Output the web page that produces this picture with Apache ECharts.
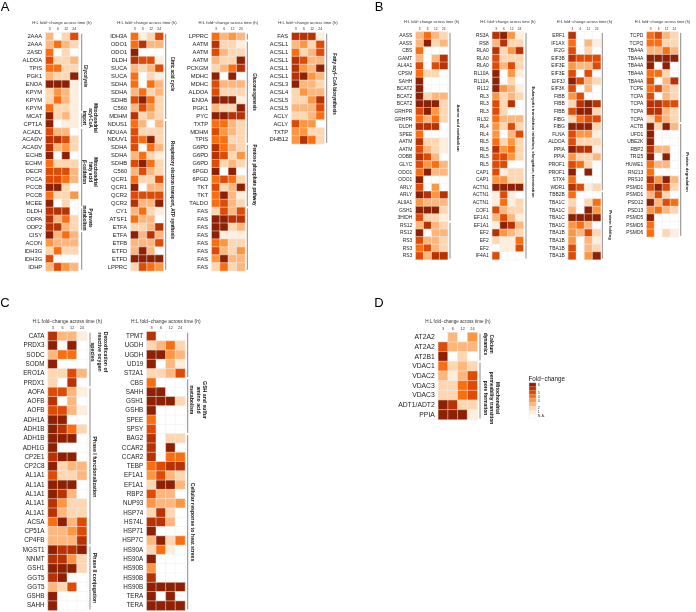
<!DOCTYPE html>
<html style="height: 100%">
<head>
    <meta charset="utf-8">
</head>
<body style="height: 100%; margin: 0; background: #fff">
<div id="container" style="width: 696px; height: 612px"></div>

<script src="https://cdn.jsdelivr.net/npm/echarts@6/dist/echarts.min.js"></script>
<script type="text/javascript">
    var times = ['3', '6', '12', '24'];
    var headerText = 'H:L fold\u2212change across time (h)';

    var levelColors = ['#ffffff', '#feeedd', '#fdd6b2', '#fdb67c', '#fd9640', '#fb6e10', '#df4a04', '#b83204', '#8e2103'];
    var legendLevels = [8, 7, 6, 5, 4, 3, 2, 1, 0];
    var legendLabels = ['6', '', '5', '4', '3', '', '2', '1', 'N.A.'];

    var a1Genes = ['2AAA','2AAA','2ASD','ALDOA','TPIS','PGK1','ENOA','KPYM','KPYM','KPYM','MCAT','CPT1A','ACADL','ACADV','ACADV','ECHB','ECHM','DECR','PCCA','PCCB','PCCB','MCEE','DLDH','ODPA','ODP2','CISY','ACON','IDH3G','IDH3G','IDHP'];
    var a1Values = [[3,0,2,6],[3,5,3,2],[5,0,2,0],[6,2,2,3],[5,5,2,2],[3,2,2,8],[8,8,8,1],[2,4,3,1],[2,5,3,1],[5,2,2,1],[8,2,3,1],[8,0,1,1],[6,3,3,0],[7,7,6,2],[7,3,4,2],[8,0,8,0],[5,2,2,2],[6,6,6,3],[6,6,5,3],[8,8,2,0],[5,2,2,4],[8,0,2,0],[7,7,7,0],[7,3,5,2],[7,7,3,2],[8,3,5,3],[4,3,3,3],[2,5,2,2],[6,0,0,0],[3,6,4,3]];

    var a2Genes = ['IDH3A','ODO1','ODO1','DLDH','SUCA','SUCA','SDHA','SDHA','SDHB','C560','MDHM','NDUS1','NDUAA','NDUV1','SDHA','SDHA','SDHB','C560','QCR1','QCR1','QCR2','QCR2','CY1','ATSF1','ETFA','ETFA','ETFB','ETFD','ETFD','LPPRC'];
    var a2Values = [[5,1,2,6],[5,7,3,3],[8,0,0,0],[7,6,6,1],[3,2,3,6],[5,0,2,1],[5,0,5,3],[3,5,2,3],[6,8,5,2],[3,6,4,2],[7,2,3,2],[5,3,0,3],[6,2,2,2],[6,5,8,2],[6,0,5,3],[3,5,2,1],[6,8,5,2],[3,6,3,2],[5,2,2,6],[8,0,3,3],[6,6,6,6],[7,3,3,8],[3,5,2,1],[5,3,3,0],[2,2,3,7],[8,3,7,3],[3,3,3,6],[3,8,3,0],[8,8,8,8],[2,6,5,4]];

    var a3Genes = ['LPPRC','AATM','AATM','AATM','PCKGM','MDHC','MDHC','ALDOA','ENOA','PGK1','PYC','TXTP','MDHM','TPIS','G6PD','G6PD','G6PD','6PGD','6PGD','TKT','TKT','TALDO','FAS','FAS','FAS','FAS','FAS','FAS','FAS','FAS'];
    var a3Values = [[5,3,4,3],[7,2,2,1],[6,3,2,2],[3,2,2,8],[2,3,5,7],[8,0,8,0],[6,3,3,3],[6,2,2,2],[8,8,8,1],[3,2,2,8],[8,8,7,7],[5,5,3,2],[6,4,3,2],[5,5,2,2],[7,5,3,2],[7,6,2,4],[6,2,3,2],[8,0,8,0],[5,6,5,2],[6,2,3,8],[5,8,3,1],[5,6,3,2],[2,6,3,6],[8,8,7,7],[8,8,2,3],[8,1,1,1],[5,4,2,2],[6,3,2,4],[4,8,3,3],[2,5,2,3]];

    var a4Genes = ['FAS','ACSL1','ACSL1','ACSL1','ACSL1','ACSL1','ACSL3','ACSL4','ACSL5','ACSL5','ACLY','ACLY','TXTP','DHB12'];
    var a4Values = [[7,7,7,1],[3,4,2,6],[5,2,3,6],[7,6,3,3],[7,4,3,8],[7,8,4,3],[8,3,3,2],[2,4,3,3],[2,2,4,7],[3,3,3,6],[2,2,3,5],[6,4,4,0],[4,4,2,2],[4,7,5,2]];

    var b1Genes = ['AASS','AASS','CBS','GAMT','AL4A1','CPSM','SAHH','BCAT2','BCAT2','BCAT2','GRHPR','GRHPR','DLDH','SPEE','AATM','AATM','ODBB','GLYC','ODO1','ODO1','ARLY','ARLY','AL9A1','GSH1','3HIDH','RS12','RS12','RS3','RS3','RS3'];
    var b1Values = [[3,5,3,2],[3,8,2,3],[5,0,0,0],[3,0,3,7],[6,0,6,7],[5,2,2,0],[8,0,0,0],[8,0,0,0],[8,2,3,3],[8,8,8,2],[6,8,4,2],[5,3,5,2],[7,7,7,0],[5,0,0,0],[7,2,2,1],[6,3,2,1],[7,6,3,0],[6,4,5,3],[5,8,3,3],[8,0,0,0],[6,0,4,0],[8,7,4,7],[4,3,3,3],[8,8,8,2],[6,2,2,1],[3,7,3,2],[8,0,3,3],[6,3,3,2],[5,6,3,2],[6,3,7,7]];

    var b2Genes = ['RS3A','RS8','RLA0','RLA0','RLA0','RL10A','RL10A','RL12','RL3','RL3','RL3','RL32','RL4','RL4','RL5','RL5','RL5','RL5','CAP1','CAP1','ACTN1','ACTN1','ACTN1','COF1','EF1A1','EF1A1','EF2','EF2','EF2','IF4A1'];
    var b2Values = [[7,8,4,1],[3,7,2,2],[7,2,4,7],[6,2,2,2],[6,3,6,2],[8,0,4,1],[8,0,2,0],[8,4,3,1],[4,2,3,2],[6,2,7,0],[6,2,0,0],[5,3,3,3],[4,2,6,2],[4,0,3,6],[5,2,4,2],[7,4,5,2],[6,6,4,2],[6,6,0,0],[6,1,2,2],[4,4,2,2],[8,8,8,8],[1,6,1,0],[1,5,1,2],[6,3,2,2],[3,6,3,1],[1,8,7,3],[7,4,3,2],[2,1,1,5],[0,1,1,6],[6,0,0,0]];

    var b3Genes = ['ERF1','IF1AX','IF2G','EIF3B','EIF3E','EIF3E','EIF3J','EIF3K','FIBB','FIBB','FIBB','FIBG','FIBG','FLNA','ALDOA','PPIA','PPIA','PROF1','PROF1','STX4','WDR1','TBB2B','TBA1C','TBA1C','TBA1C','TBA1C','TBA1B','TBA1B','TBA1B','TBA1B'];
    var b3Values = [[7,0,0,0],[5,0,3,1],[6,0,2,0],[7,6,6,6],[4,3,3,6],[6,0,6,0],[8,6,3,2],[6,0,3,0],[4,6,0,0],[2,7,8,7],[6,8,8,2],[2,5,6,6],[8,8,8,2],[6,4,4,1],[6,2,2,2],[8,7,7,1],[4,2,2,3],[6,5,2,0],[8,0,8,0],[5,0,0,0],[7,6,1,2],[5,0,0,0],[2,0,2,5],[3,0,8,4],[8,8,8,8],[4,5,3,0],[4,3,6,2],[4,0,3,1],[6,0,3,2],[6,0,4,8]];

    var b4Genes = ['TCPD','TCPQ','TBA4A','TBA4A','TBA4A','TBA4A','TBA4A','TCPE','TCPA','TCPA','TCPA','TCPA','ACTB','UFD1','UBE2K','RBP2','TRI25','HUWE1','RN213','PRS10','PSMD1','PSMD1','PSD12','PSD13','PSMD5','PSMD5','PSMD6'];
    var b4Values = [[5,6,3,2],[5,5,2,2],[3,3,5,3],[8,8,8,8],[8,0,8,0],[5,5,2,0],[6,0,3,7],[5,6,3,2],[6,0,3,2],[7,7,6,6],[7,7,3,2],[2,5,3,2],[8,2,8,3],[8,0,0,0],[8,0,0,0],[7,3,3,0],[8,0,8,0],[5,3,3,0],[5,0,0,0],[7,4,8,3],[6,8,6,2],[3,6,2,0],[8,3,6,5],[4,5,3,2],[8,0,0,0],[5,0,0,0],[5,0,2,1]];

    var c1Genes = ['CATA','PRDX3','SODC','SODM','ERO1A','PRDX1','AOFA','AOFB','AOFB','ADH1A','ADH1B','ADH1B','ADH1G','CP2E1','CP2C8','AL1A1','AL1A1','AL1A1','AL1A1','AL1A1','ACSA','CP51A','CP4FB','MGST1','NNMT','GSH1','GGT5','GGT5','GSHB','SAHH'];
    var c1Values = [[7,3,3,1],[8,0,8,0],[3,5,5,0],[8,0,0,0],[2,2,6,3],[2,0,7,0],[6,6,3,1],[7,0,3,0],[6,6,3,1],[8,8,0,0],[8,7,5,2],[8,8,8,0],[8,0,0,0],[7,8,8,0],[8,2,3,3],[6,2,2,3],[8,8,8,0],[8,7,3,0],[7,4,2,2],[7,3,2,2],[5,8,3,6],[3,3,4,6],[3,3,3,7],[8,7,7,8],[7,7,4,2],[8,8,8,2],[7,8,0,0],[3,2,6,0],[8,0,0,0],[8,0,0,0]];

    var c2Genes = ['TPMT','UGDH','UGDH','UD19','ST2A1','CBS','SAHH','GSH1','GSHB','SPEE','SPSY','BAG2','CCAR2','CCAR2','TEBP','EF1A1','EF1A1','RBP2','NUP93','HSP74','HS74L','HSP71','HSP7C','HS90A','HS90A','HS90B','HS90B','HS90B','TERA','TERA'];
    var c2Values = [[7,0,0,0],[2,3,5,2],[8,8,4,3],[8,0,3,1],[2,2,3,6],[5,0,0,0],[8,8,0,0],[8,8,8,2],[8,0,0,0],[5,0,0,0],[6,0,0,0],[7,0,2,2],[7,0,8,0],[7,0,5,5],[5,6,7,7],[4,6,3,2],[2,8,8,3],[6,3,3,0],[4,3,3,4],[2,7,2,0],[7,7,3,0],[8,0,0,0],[3,8,2,5],[2,5,1,0],[8,0,0,0],[4,0,0,0],[7,0,0,0],[8,8,8,8],[8,0,8,0],[8,8,8,8]];

    var d1Genes = ['AT2A2','AT2A2','AT2B1','VDAC1','VDAC2','VDAC3','VDAC3','ADT1/ADT2','PPIA'];
    var d1Values = [[0,3,0,4],[6,3,3,3],[8,0,2,0],[5,2,3,2],[3,1,3,6],[2,2,5,6],[2,2,5,6],[8,7,2,2],[8,8,8,1]];

    // one heatmap per block: grid box, font sizes and the brackets beside it
    var blocks = [
        {genes: a1Genes, values: a1Values, left: 45.7, width: 32.6, top: 32.7, rowH: 7.94, font: 5.8, tick: 3.5, head: 4.2,
            lineX: 81.7, groups: [
                {from: 0, to: 9, text: 'Glycolysis', x: 85, y: 76},
                {from: 10, to: 11, text: 'Mitochondrial\nacyl-CoA\nimport', x: 90, y: 118},
                {from: 12, to: 21, text: 'Mitochondrial\nfatty acid\n\u03b2-oxidation', x: 90, y: 172},
                {from: 22, to: 24, text: 'Pyruvate\nmetabolism', x: 87.5, y: 218},
                {from: 25, to: 29}]},
        {genes: a2Genes, values: a2Values, left: 130.7, width: 32.6, top: 32.7, rowH: 7.94, font: 5.8, tick: 3.5, head: 4.2,
            lineX: 165.7, groups: [
                {from: 0, to: 10, text: 'Citric acid cycle', x: 172.7, y: 74},
                {from: 11, to: 29, text: 'Respiratory electron transport, ATP synthesis', x: 172.7, y: 190}]},
        {genes: a3Genes, values: a3Values, left: 211.7, width: 33.3, top: 32.7, rowH: 7.94, font: 5.8, tick: 3.5, head: 4.2,
            lineX: 247.3, groups: [
                {from: 0, to: 0},
                {from: 1, to: 13, text: 'Gluconeogenesis', x: 254, y: 92},
                {from: 14, to: 21, text: 'Pentose phosphate pathway', x: 254, y: 175},
                {from: 22, to: 29}]},
        {genes: a4Genes, values: a4Values, left: 291.7, width: 32.6, top: 32.7, rowH: 7.94, font: 5.8, tick: 3.5, head: 4.2,
            lineX: 326.7, groups: [
                {from: 0, to: 13, text: 'Fatty acyl\u2212CoA biosynthesis', x: 334, y: 84}]},
        {genes: b1Genes, values: b1Values, left: 415.7, width: 32, top: 31.9, rowH: 7.59, font: 4.9, tick: 3.2, head: 3.9,
            lineX: 450, groups: [
                {from: 0, to: 24, text: 'Amino acid metabolism', x: 457.7, y: 128},
                {from: 25, to: 29}]},
        {genes: b2Genes, values: b2Values, left: 492.3, width: 31, top: 31.9, rowH: 7.59, font: 4.9, tick: 3.2, head: 3.9,
            lineX: 526, groups: [
                {from: 0, to: 29, text: 'Eukaryotic translation initiation, elongation, termination', x: 532.7, y: 142}]},
        {genes: b3Genes, values: b3Values, left: 568.3, width: 32.4, top: 31.9, rowH: 7.59, font: 4.9, tick: 3.2, head: 3.9,
            lineX: 602.3, groups: [
                {from: 0, to: 20},
                {from: 21, to: 29, text: 'Protein folding', x: 610, y: 225}]},
        {genes: b4Genes, values: b4Values, left: 646.7, width: 31.6, top: 31.9, rowH: 7.59, font: 4.9, tick: 3.2, head: 3.9,
            lineX: 680.7, groups: [
                {from: 0, to: 11},
                {from: 12, to: 26, text: 'Protein degradation', x: 687.3, y: 172}]},
        {genes: c1Genes, values: c1Values, left: 48, width: 38.7, top: 331.7, rowH: 9.29, font: 6.3, tick: 3.8, head: 4.9,
            lineX: 90, groups: [
                {from: 0, to: 5, text: 'Detoxification of\nreactive oxygen\nspecies', x: 99, y: 352},
                {from: 6, to: 22, text: 'Phase I functionalization', x: 94.3, y: 467},
                {from: 23, to: 29, text: 'Phase II conjugation', x: 94.3, y: 578}]},
        {genes: c2Genes, values: c2Values, left: 146.7, width: 38.3, top: 331.7, rowH: 9.29, font: 6.3, tick: 3.8, head: 4.9,
            lineX: 187.7, groups: [
                {from: 0, to: 4},
                {from: 5, to: 10, text: 'GSH and sulfur\namino acid\nmetabolism', x: 198, y: 400},
                {from: 11, to: 29, text: 'Cellular response to heat stress', x: 192.7, y: 522}]},
        {genes: d1Genes, values: d1Values, left: 438.3, width: 39, top: 332.5, rowH: 9.67, font: 6.8, tick: 3.8, head: 4.6,
            lineX: 480, groups: [
                {from: 0, to: 2, text: 'Calcium\ndynamics', x: 488.3, y: 344},
                {from: 3, to: 8, text: 'Mitochondrial\npermeability transition\npore formation', x: 491.7, y: 398}]}
    ];
    var panelLetters = [
        {text: 'A', x: 5, y: 7}, {text: 'B', x: 379, y: 7},
        {text: 'C', x: 5, y: 303}, {text: 'D', x: 379, y: 303}
    ];

    var fontName = '"Liberation Sans", Arial, sans-serif';
    var myChart = echarts.init(document.getElementById('container'), null, {renderer: 'canvas'});
    var grids = [], xAxes = [], yAxes = [], series = [], graphics = [];

    blocks.forEach(function (b, i) {
        grids.push({left: b.left, top: b.top, width: b.width, height: b.rowH * b.genes.length});
        xAxes.push({
            type: 'category', gridIndex: i, position: 'top', data: times,
            name: headerText, nameLocation: 'middle', nameGap: 8,
            nameTextStyle: {fontSize: b.head, color: '#333', fontFamily: fontName},
            axisLine: {show: false}, axisTick: {show: false},
            axisLabel: {fontSize: b.tick, margin: 1.5, color: '#333', interval: 0, fontFamily: fontName}
        });
        yAxes.push({
            type: 'category', gridIndex: i, inverse: true, data: b.genes,
            axisLine: {show: false}, axisTick: {show: false},
            axisLabel: {fontSize: b.font, margin: 3.5, color: '#222', interval: 0, fontFamily: fontName}
        });
        var cells = [];
        b.values.forEach(function (row, r) {
            row.forEach(function (v, c) {
                cells.push([c, r, v]);
            });
        });
        series.push({
            type: 'heatmap', xAxisIndex: i, yAxisIndex: i, data: cells, silent: true,
            itemStyle: {borderColor: '#eeeeee', borderWidth: 0.5}
        });
        b.groups.forEach(function (g) {
            graphics.push({
                type: 'line', silent: true,
                shape: {
                    x1: b.lineX, x2: b.lineX,
                    y1: b.top + b.rowH * g.from + 1,
                    y2: b.top + b.rowH * (g.to + 1) - 1
                },
                style: {stroke: '#8a8a8a', lineWidth: 1}
            });
            if (g.text) {
                graphics.push({
                    type: 'text', silent: true, x: g.x, y: g.y, rotation: -Math.PI / 2,
                    style: {
                        text: g.text, fill: '#111', align: 'center', verticalAlign: 'middle',
                        font: 'bold ' + (b.head + 0.3) + 'px ' + fontName, lineHeight: b.head + 1.4
                    }
                });
            }
        });
    });

    // fold-change colour key, same colour steps as the cells
    var keyIndex = blocks.length;
    grids.push({left: 529.3, top: 383, width: 6.5, height: 35});
    xAxes.push({type: 'category', gridIndex: keyIndex, data: [''], show: false});
    yAxes.push({
        type: 'category', gridIndex: keyIndex, inverse: true, position: 'right', data: legendLabels,
        axisLine: {show: false}, axisTick: {show: false},
        axisLabel: {fontSize: 3.6, margin: 2, color: '#333', interval: 0, fontFamily: fontName}
    });
    series.push({
        type: 'heatmap', xAxisIndex: keyIndex, yAxisIndex: keyIndex, silent: true,
        data: legendLevels.map(function (v, r) { return [0, r, v]; }),
        itemStyle: {borderColor: '#dddddd', borderWidth: 0.3}
    });
    graphics.push({
        type: 'text', silent: true, x: 528.5, y: 379,
        style: {text: 'Fold\u2212change', fill: '#222', align: 'left', verticalAlign: 'middle', font: '6.3px ' + fontName}
    });

    panelLetters.forEach(function (p) {
        graphics.push({
            type: 'text', silent: true, x: p.x, y: p.y,
            style: {text: p.text, fill: '#000', align: 'center', verticalAlign: 'middle', font: '13px ' + fontName}
        });
    });

    var option = {
        animation: false,
        backgroundColor: '#fff',
        grid: grids,
        xAxis: xAxes,
        yAxis: yAxes,
        visualMap: {
            show: false, type: 'piecewise', dimension: 2,
            pieces: levelColors.map(function (c, i) { return {value: i, color: c}; })
        },
        series: series,
        graphic: graphics
    };
    myChart.setOption(option);
</script>
</body>
</html>
